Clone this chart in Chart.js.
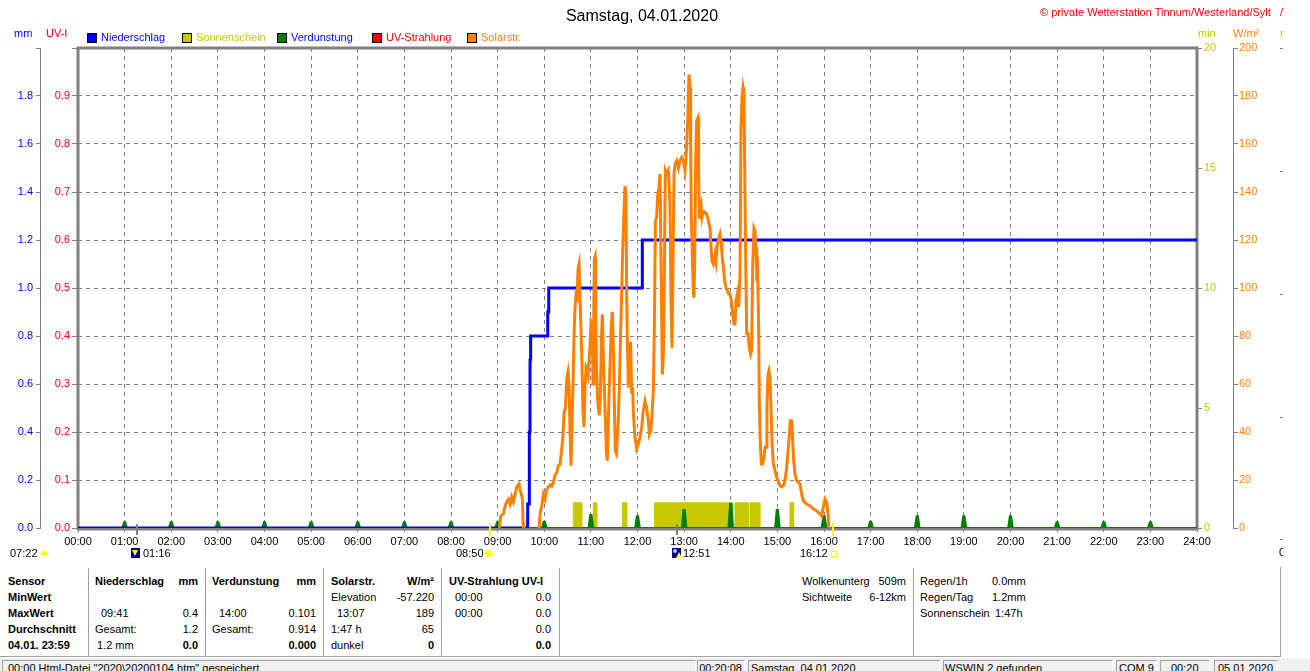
<!DOCTYPE html>
<html><head><meta charset="utf-8">
<script src="https://cdn.jsdelivr.net/npm/chart.js@4.4.0/dist/chart.umd.min.js"></script>
<style>
html,body{margin:0;padding:0;background:#fff;width:1310px;height:671px;overflow:hidden;}
body{position:relative;font-family:"Liberation Sans",Arial,sans-serif;font-size:11px;color:#000;}
.t{position:absolute;white-space:nowrap;line-height:13px;}
.b{font-weight:bold;}
.box{position:absolute;width:8px;height:8px;border:1px solid #000;top:33px;}
.vl{position:absolute;width:1px;background:#a0a0a0;}
.pn{position:absolute;top:660px;height:14px;border-top:1px solid #a0a0a0;border-left:1px solid #a0a0a0;border-right:1px solid #fff;}
#c{position:absolute;left:0;top:0;}
</style></head>
<body>
<canvas id="c" width="1310" height="560"></canvas>

<!-- title & header texts -->
<div class="t" style="left:0;width:1284px;text-align:center;top:6px;font-size:16px;line-height:19px;">Samstag, 04.01.2020</div>
<div class="t" style="left:1040px;top:6px;color:#ff0000;">© private Wetterstation Tinnum/Westerland/Sylt</div>
<div class="t" style="left:1280px;top:6px;color:#ff0000;">/</div>

<div class="t" style="left:14px;top:27px;color:#0000ff;">mm</div>
<div class="t" style="left:46px;top:27px;color:#ff0000;">UV-I</div>
<div class="t" style="left:1198px;top:27px;color:#c8c800;">min</div>
<div class="t" style="left:1233px;top:27px;color:#ff8000;">W/m²</div>
<div class="t" style="left:1280px;top:27px;color:#c8c800;">r</div>

<!-- legend -->
<div class="box" style="left:87px;background:#0000ff;"></div>
<div class="t" style="left:101px;top:31px;color:#0000ff;">Niederschlag</div>
<div class="box" style="left:182px;background:#c8c800;"></div>
<div class="t" style="left:196px;top:31px;color:#c8c800;">Sonnenschein</div>
<div class="box" style="left:277px;background:#008000;"></div>
<div class="t" style="left:291px;top:31px;color:#0000ff;">Verdunstung</div>
<div class="box" style="left:372px;background:#ff0000;"></div>
<div class="t" style="left:386px;top:31px;color:#ff0000;">UV-Strahlung</div>
<div class="box" style="left:467px;background:#ff8000;"></div>
<div class="t" style="left:481px;top:31px;color:#ff8000;">Solarstr.</div>

<!-- clipped third right axis -->
<div style="position:absolute;left:1280px;top:48px;width:3px;height:1px;background:#808080;"></div>
<div style="position:absolute;left:1280px;top:171px;width:3px;height:1px;background:#808080;"></div>
<div style="position:absolute;left:1280px;top:294px;width:3px;height:1px;background:#808080;"></div>
<div style="position:absolute;left:1280px;top:417px;width:3px;height:1px;background:#808080;"></div>
<div style="position:absolute;left:1280px;top:539px;width:3px;height:1px;background:#808080;"></div>
<div class="t" style="left:1279px;top:546px;width:4px;overflow:hidden;">0</div>

<!-- sun / moon event labels under the axis -->
<div class="t" style="left:10px;top:547px;">07:22</div>
<div style="position:absolute;left:41px;top:551px;width:7px;height:4px;background:#ffff00;border-radius:4px 4px 0 0;"></div>
<div style="position:absolute;left:131px;top:548px;width:9px;height:10px;background:#000080;"></div>
<div style="position:absolute;left:132px;top:550px;width:0;height:0;border-left:3px solid transparent;border-right:3px solid transparent;border-top:6px solid #ffff00;"></div>
<div class="t" style="left:143px;top:547px;">01:16</div>
<div class="t" style="left:456px;top:547px;">08:50</div>
<div style="position:absolute;left:485px;top:550px;width:7px;height:7px;background:#ffff00;border-radius:50%;box-shadow:0 0 2px #ffff80;"></div>
<div style="position:absolute;left:672px;top:548px;width:9px;height:10px;background:#000080;"></div>
<div style="position:absolute;left:673px;top:549px;width:4px;height:4px;background:#c0c0ff;border-radius:50%;"></div>
<div style="position:absolute;left:676px;top:552px;width:0;height:0;border-left:3px solid transparent;border-right:3px solid transparent;border-bottom:6px solid #ffff00;"></div>
<div class="t" style="left:683px;top:547px;">12:51</div>
<div class="t" style="left:800px;top:547px;">16:12</div>
<div style="position:absolute;left:831px;top:551px;width:4px;height:4px;border:1px solid #ffff00;"></div>

<!-- table -->
<div class="vl" style="left:88px;top:568px;height:88px;"></div>
<div class="vl" style="left:205px;top:568px;height:88px;"></div>
<div class="vl" style="left:323px;top:568px;height:88px;"></div>
<div class="vl" style="left:441px;top:568px;height:88px;"></div>
<div class="vl" style="left:559px;top:568px;height:88px;"></div>
<div class="vl" style="left:913px;top:568px;height:88px;"></div>
<div class="vl" style="left:1280px;top:567px;height:89px;"></div>

<div class="t b" style="left:8px;top:575px;">Sensor</div>
<div class="t b" style="left:8px;top:591px;">MinWert</div>
<div class="t b" style="left:8px;top:607px;">MaxWert</div>
<div class="t b" style="left:8px;top:623px;">Durchschnitt</div>
<div class="t b" style="left:8px;top:639px;">04.01. 23:59</div>

<div class="t b" style="left:95px;top:575px;">Niederschlag</div>
<div class="t b" style="right:1112px;top:575px;">mm</div>
<div class="t" style="left:101px;top:607px;">09:41</div>
<div class="t" style="right:1112px;top:607px;">0.4</div>
<div class="t" style="left:95px;top:623px;">Gesamt:</div>
<div class="t" style="right:1112px;top:623px;">1.2</div>
<div class="t" style="left:97px;top:639px;">1.2 mm</div>
<div class="t b" style="right:1112px;top:639px;">0.0</div>

<div class="t b" style="left:212px;top:575px;">Verdunstung</div>
<div class="t b" style="right:994px;top:575px;">mm</div>
<div class="t" style="left:219px;top:607px;">14:00</div>
<div class="t" style="right:994px;top:607px;">0.101</div>
<div class="t" style="left:212px;top:623px;">Gesamt:</div>
<div class="t" style="right:994px;top:623px;">0.914</div>
<div class="t b" style="right:994px;top:639px;">0.000</div>

<div class="t b" style="left:331px;top:575px;">Solarstr.</div>
<div class="t b" style="right:876px;top:575px;">W/m²</div>
<div class="t" style="left:331px;top:591px;">Elevation</div>
<div class="t" style="right:876px;top:591px;">-57.220</div>
<div class="t" style="left:337px;top:607px;">13:07</div>
<div class="t" style="right:876px;top:607px;">189</div>
<div class="t" style="left:331px;top:623px;">1:47 h</div>
<div class="t" style="right:876px;top:623px;">65</div>
<div class="t" style="left:331px;top:639px;">dunkel</div>
<div class="t b" style="right:876px;top:639px;">0</div>

<div class="t b" style="left:449px;top:575px;">UV-Strahlung UV-I</div>
<div class="t" style="left:455px;top:591px;">00:00</div>
<div class="t" style="right:759px;top:591px;">0.0</div>
<div class="t" style="left:455px;top:607px;">00:00</div>
<div class="t" style="right:759px;top:607px;">0.0</div>
<div class="t" style="right:759px;top:623px;">0.0</div>
<div class="t b" style="right:759px;top:639px;">0.0</div>

<div class="t" style="left:802px;top:575px;">Wolkenunterg</div>
<div class="t" style="right:404px;top:575px;">509m</div>
<div class="t" style="left:802px;top:591px;">Sichtweite</div>
<div class="t" style="right:404px;top:591px;">6-12km</div>
<div class="t" style="left:920px;top:575px;">Regen/1h</div>
<div class="t" style="left:992px;top:575px;">0.0mm</div>
<div class="t" style="left:920px;top:591px;">Regen/Tag</div>
<div class="t" style="left:992px;top:591px;">1.2mm</div>
<div class="t" style="left:920px;top:607px;">Sonnenschein</div>
<div class="t" style="left:995px;top:607px;">1:47h</div>

<!-- status bar -->
<div style="position:absolute;left:0;top:656px;width:1281px;height:1px;background:#a0a0a0;"></div>
<div style="position:absolute;left:0;top:658px;width:1310px;height:13px;background:#f0f0f0;"></div>
<div class="pn" style="left:2px;width:692px;"></div>
<div class="pn" style="left:697px;width:46px;"></div>
<div class="pn" style="left:748px;width:190px;"></div>
<div class="pn" style="left:943px;width:168px;"></div>
<div class="pn" style="left:1116px;width:39px;"></div>
<div class="pn" style="left:1160px;width:48px;"></div>
<div class="pn" style="left:1214px;width:62px;"></div>
<div class="t" style="left:8px;top:662px;">00:00  Html-Datei  "2020\20200104.htm"  gespeichert</div>
<div class="t" style="right:568px;top:662px;">00:20:08</div>
<div class="t" style="left:751px;top:662px;">Samstag, 04.01.2020</div>
<div class="t" style="left:945px;top:662px;">WSWIN 2 gefunden</div>
<div class="t" style="left:1119px;top:662px;">COM 9</div>
<div class="t" style="left:1171px;top:662px;">00:20</div>
<div class="t" style="left:1218px;top:662px;">05.01.2020</div>

<script>
// ---------- data (time in minutes since 00:00) ----------
const hourLabels = ['00:00','01:00','02:00','03:00','04:00','05:00','06:00','07:00','08:00','09:00','10:00','11:00','12:00',
                    '13:00','14:00','15:00','16:00','17:00','18:00','19:00','20:00','21:00','22:00','23:00','24:00'];
const mmLabels  = ['0.0','0.2','0.4','0.6','0.8','1.0','1.2','1.4','1.6','1.8',''];
const uvLabels  = ['0.0','0.1','0.2','0.3','0.4','0.5','0.6','0.7','0.8','0.9',''];
const minLabels = ['0','5','10','15','20'];
const wLabels   = ['0','20','40','60','80','100','120','140','160','180','200'];

// Niederschlag (mm, cumulative)
const rainTime  = [0, 578.7, 580.8, 581.7, 582.5, 604.5, 605.8, 726.2, 1440];
const rainValue = [0, 0.1,   0.4,   0.7,   0.8,   0.9,   1.0,   1.2,   1.2];

// Verdunstung (mm per hour)
const evapHours  = [1,2,3,4,5,6,7,8,9,10,11,12,13,14,15,16,17,18,19,20,21,22,23];
const evapValues = [0.024,0.024,0.024,0.024,0.024,0.024,0.024,0.024,0.024,0.026,0.054,0.049,
                    0.075,0.101,0.075,0.049,0.026,0.049,0.049,0.049,0.024,0.024,0.024];

// Sonnenschein (min) intervals
const sunStart = [637.4, 663.1, 700.5, 741.8, 835.8, 845.5, 864.8, 916.2];
const sunEnd   = [648.2, 667.5, 706.1, 834.4, 842.3, 862.5, 877.4, 920.9];
const sunValue = [1.05, 1.05, 1.05, 1.05, 1.05, 1.05, 1.05, 1.05];

// UV-Strahlung (UV-I)
const uvTime  = [0, 1440];
const uvValue = [0, 0];

// Solarstrahlung (W/m²)
const solarTime = [542.3,544,547.4,549.6,551.7,553.9,556,558.1,560.3,562.4,564.6,566.3,567.6,568.9,570.6,571.9,572.7,573.6,583,
  593.5,594.6,596.7,598.9,601,603.2,605.3,607.5,609.6,611.8,613.9,616,618.2,620.3,622.5,623.8,625.5,627.2,628.9,630.6,631.9,
  633.2,634.5,635.8,637.1,638.3,639.6,640.9,642.2,643.5,644.8,646.1,647.4,648.6,649.9,651.2,652.5,653.8,655.1,656.4,657.6,
  658.9,660.2,661.5,662.8,663.7,664.5,665.4,666.2,667.1,668.4,669.7,670.9,672.2,673.5,674.8,676.1,677.4,678.7,679.9,681.2,
  682.5,683.8,685.1,686.4,687.7,689,690.2,691.5,692.8,694.1,695.4,696.7,698.2,699.8,700.9,702.6,703.9,705.2,706.1,706.9,
  708.2,709.5,711.2,712.5,713.8,714.7,716.8,719,721.1,723.2,725.4,727.5,729.7,731.8,734,735.2,737,738.2,740.4,741.7,
  743,744.7,746,747.7,749,750.3,752,753.3,754.5,755.8,757.5,759.7,761.8,763.1,764.4,765.7,767,768.3,770.4,772.6,
  774.7,776.9,779,781.1,782.4,783.3,784.6,786.3,787.6,788.4,789.3,790.6,791.9,792.7,793.6,794.9,796.1,797.9,798.7,799.6,
  800.4,801.7,803,804.7,806.9,809,811.2,813.3,814.6,815.9,817.6,819.7,821,822.7,824.9,826.2,827.5,828.7,830.5,832.2,
  833.9,835.6,837.3,839,840.8,842.5,844.2,845.5,846.8,848.5,850.2,851.9,853.2,854.5,855.8,857,858.3,859.2,860.5,862.2,
  863.9,865.6,866.9,868.2,869.9,871.2,872.5,873.4,874.6,875.9,876.8,878.1,879.4,881.1,882.8,884.1,885.4,886.6,887.9,889.2,
  890.5,891.8,893.1,894.8,897,899.1,901.2,903.4,905.5,907.7,909.8,912,914.1,915.4,916.7,918.4,919.7,921,922.7,924.8,
  927,929.1,931.3,933.4,935.5,937.7,942,946.3,950.5,954.8,957,959.1,961.3,963.4,965.1,966,966.8];
const solarValue = [0,5,6,9,11,12,10,13,11,14,17,18,18.5,16,14,12,2,0,null,
  0,6,9,14,12,16,17,18,17.5,19,22,23,26,26.5,33,37,48,50,62,65,60,
  40,26,45,60,80,92,97,96,108,110,95,82,68,48,42,58,67,66,64,70,
  76,86,85,60,90,112,113,95,70,55,50,47,54,78,89,70,58,45,32,28,
  45,60,72,85,90,75,52,32,31,38,45,60,80,100,115,132,142.5,139,97.5,79,
  58.6,77,77,56,58.6,47.5,37.8,33,35,37.8,42,49,53,50,44.7,39,40.5,44.7,57,83.6,
  128,129.4,139,142,147.5,111,64,72.5,104,149,147.5,149,135,94.7,75,111,147.5,151.7,153,150,
  153,154.4,153,149,154,160,169.7,189,183.6,160,129.4,112.8,97.5,96,111.4,153,169.7,171,146,129.4,
  133.6,135,129.4,132,131.5,130.8,128,125,117,111.4,110,114,111,118,121,122.5,119.7,114,108.6,103,
  100,99,97.5,97.5,94.7,89,85,85,94.7,97.5,92,106,167,179.4,183.6,181,139,114,81,81,
  75,72.5,74,108.6,125,124,117,107,108.6,83.6,51.7,35,26.7,26.7,29.4,33.6,33.6,50,64,65.6,
  62.8,50,36,26.7,24,21,19.7,17.6,17.2,17.6,19.7,25.3,33.6,39,44.7,44.7,36,28,22.5,19.7,
  19,18.3,14,11.4,10.7,10,9.3,7.9,7.2,5.8,5,8.6,12,10.7,5.8,1,0];

// sun rise/set and moon rise/set markers on the time axis
const sunEvents  = ['08:50', '16:12'];
const moonEvents = ['01:16', '12:51'];

// ---------- build ----------
const FONT = '"Liberation Sans", Arial, sans-serif';
Chart.defaults.font.family = FONT;
Chart.defaults.font.size = 11;

const pts = (xs, ys) => xs.map((x, i) => ({x: x, y: ys[i]}));
const toMin = s => { const p = s.split(':'); return (+p[0]) * 60 + (+p[1]); };

const evapPts = [{x: 0, y: 0}];
evapHours.forEach((h, i) => {
  const t = h * 60, v = evapValues[i];
  evapPts.push({x: t - 3, y: 0}, {x: t - 0.8, y: v}, {x: t + 0.8, y: v}, {x: t + 3, y: 0});
});
evapPts.push({x: 1440, y: 0});

const sunPts = [];
sunStart.forEach((s, i) => {
  const e = sunEnd[i], v = sunValue[i];
  sunPts.push({x: s, y: 0}, {x: s, y: v}, {x: e, y: v}, {x: e, y: 0});
});

const framePlugin = {
  id: 'frame',
  beforeDatasetsDraw(chart) {
    const {ctx, chartArea: a} = chart;
    ctx.save();
    ctx.strokeStyle = '#808080';
    ctx.lineWidth = 3;
    ctx.strokeRect(a.left, a.top, a.right - a.left, a.bottom - a.top + 1);
    ctx.restore();
  }
};

const markerPlugin = {
  id: 'markers',
  afterDatasetsDraw(chart) {
    const {ctx, chartArea: a, scales} = chart;
    const x = scales.x;
    ctx.save();
    ctx.lineWidth = 2;
    moonEvents.forEach(t => {
      const px = Math.round(x.getPixelForValue(toMin(t)));
      ctx.strokeStyle = '#808080';
      ctx.beginPath(); ctx.moveTo(px, a.bottom - 4); ctx.lineTo(px, a.bottom + 7); ctx.stroke();
    });
    sunEvents.forEach(t => {
      const px = Math.round(x.getPixelForValue(toMin(t)));
      ctx.strokeStyle = '#ffff00';
      ctx.beginPath(); ctx.moveTo(px, a.bottom - 5); ctx.lineTo(px, a.bottom + 8); ctx.stroke();
    });
    ctx.restore();
  }
};

new Chart(document.getElementById('c'), {
  type: 'line',
  data: {
    datasets: [
      {label: 'Solarstr.', data: pts(solarTime, solarValue), yAxisID: 'wm2', borderColor: '#ff8000',
       borderWidth: 3, pointRadius: 0, tension: 0, fill: false, spanGaps: false, order: 1},
      {label: 'Niederschlag', data: pts(rainTime, rainValue), yAxisID: 'mm', borderColor: '#0000ff',
       borderWidth: 3, pointRadius: 0, stepped: 'before', fill: false, order: 2},
      {label: 'Verdunstung', data: evapPts, yAxisID: 'mm', borderColor: '#008000', backgroundColor: '#008000',
       borderWidth: 2, pointRadius: 0, tension: 0, fill: 'origin', order: 3},
      {label: 'Sonnenschein', data: sunPts, yAxisID: 'min', borderColor: '#c8c800', backgroundColor: '#c8c800',
       borderWidth: 1, pointRadius: 0, tension: 0, fill: 'origin', order: 4},
      {label: 'UV-Strahlung', data: pts(uvTime, uvValue), yAxisID: 'uv', borderColor: '#ff0000',
       borderWidth: 2, pointRadius: 0, fill: false, order: 5}
    ]
  },
  options: {
    responsive: false,
    animation: false,
    events: [],
    layout: {padding: {left: 0, right: 37, top: 48, bottom: 12}},
    plugins: {legend: {display: false}, tooltip: {enabled: false}, title: {display: false}},
    scales: {
      x: {
        type: 'linear', position: 'bottom', min: 0, max: 1440,
        afterFit: s => { s.height = 20; },
        ticks: {stepSize: 60, autoSkip: false, maxRotation: 0, color: '#000', padding: 3,
                callback: (v, i) => hourLabels[i]},
        grid: {color: '#808080', lineWidth: 1, tickLength: 4, tickColor: '#808080'},
        border: {display: false, dash: [4, 4]}
      },
      mm: {
        type: 'linear', position: 'left', min: 0, max: 2, weight: 2,
        afterFit: s => { s.width = 40; },
        ticks: {stepSize: 0.2, color: '#0000ff', padding: 3, callback: (v, i) => mmLabels[i]},
        grid: {drawOnChartArea: false, tickLength: 4, color: '#808080'},
        border: {display: true, color: '#808080', width: 1}
      },
      uv: {
        type: 'linear', position: 'left', min: 0, max: 1, weight: 1,
        afterFit: s => { s.width = 38; },
        ticks: {stepSize: 0.1, color: '#ff0000', padding: 2, callback: (v, i) => uvLabels[i]},
        grid: {color: '#808080', lineWidth: 1, tickLength: 6, tickColor: '#808080'},
        border: {display: false, dash: [4, 4]}
      },
      min: {
        type: 'linear', position: 'right', min: 0, max: 20, weight: 1,
        afterFit: s => { s.width = 36; },
        ticks: {stepSize: 5, color: '#c8c800', padding: 2, callback: (v, i) => minLabels[i]},
        grid: {drawOnChartArea: false, tickLength: 5, color: '#808080'},
        border: {display: false}
      },
      wm2: {
        type: 'linear', position: 'right', min: 0, max: 200, weight: 2,
        afterFit: s => { s.width = 40; },
        ticks: {stepSize: 20, color: '#ff8000', padding: 1, callback: (v, i) => wLabels[i]},
        grid: {drawOnChartArea: false, tickLength: 5, color: '#808080'},
        border: {display: true, color: '#808080', width: 1}
      }
    }
  },
  plugins: [framePlugin, markerPlugin]
});
</script>
</body></html>
